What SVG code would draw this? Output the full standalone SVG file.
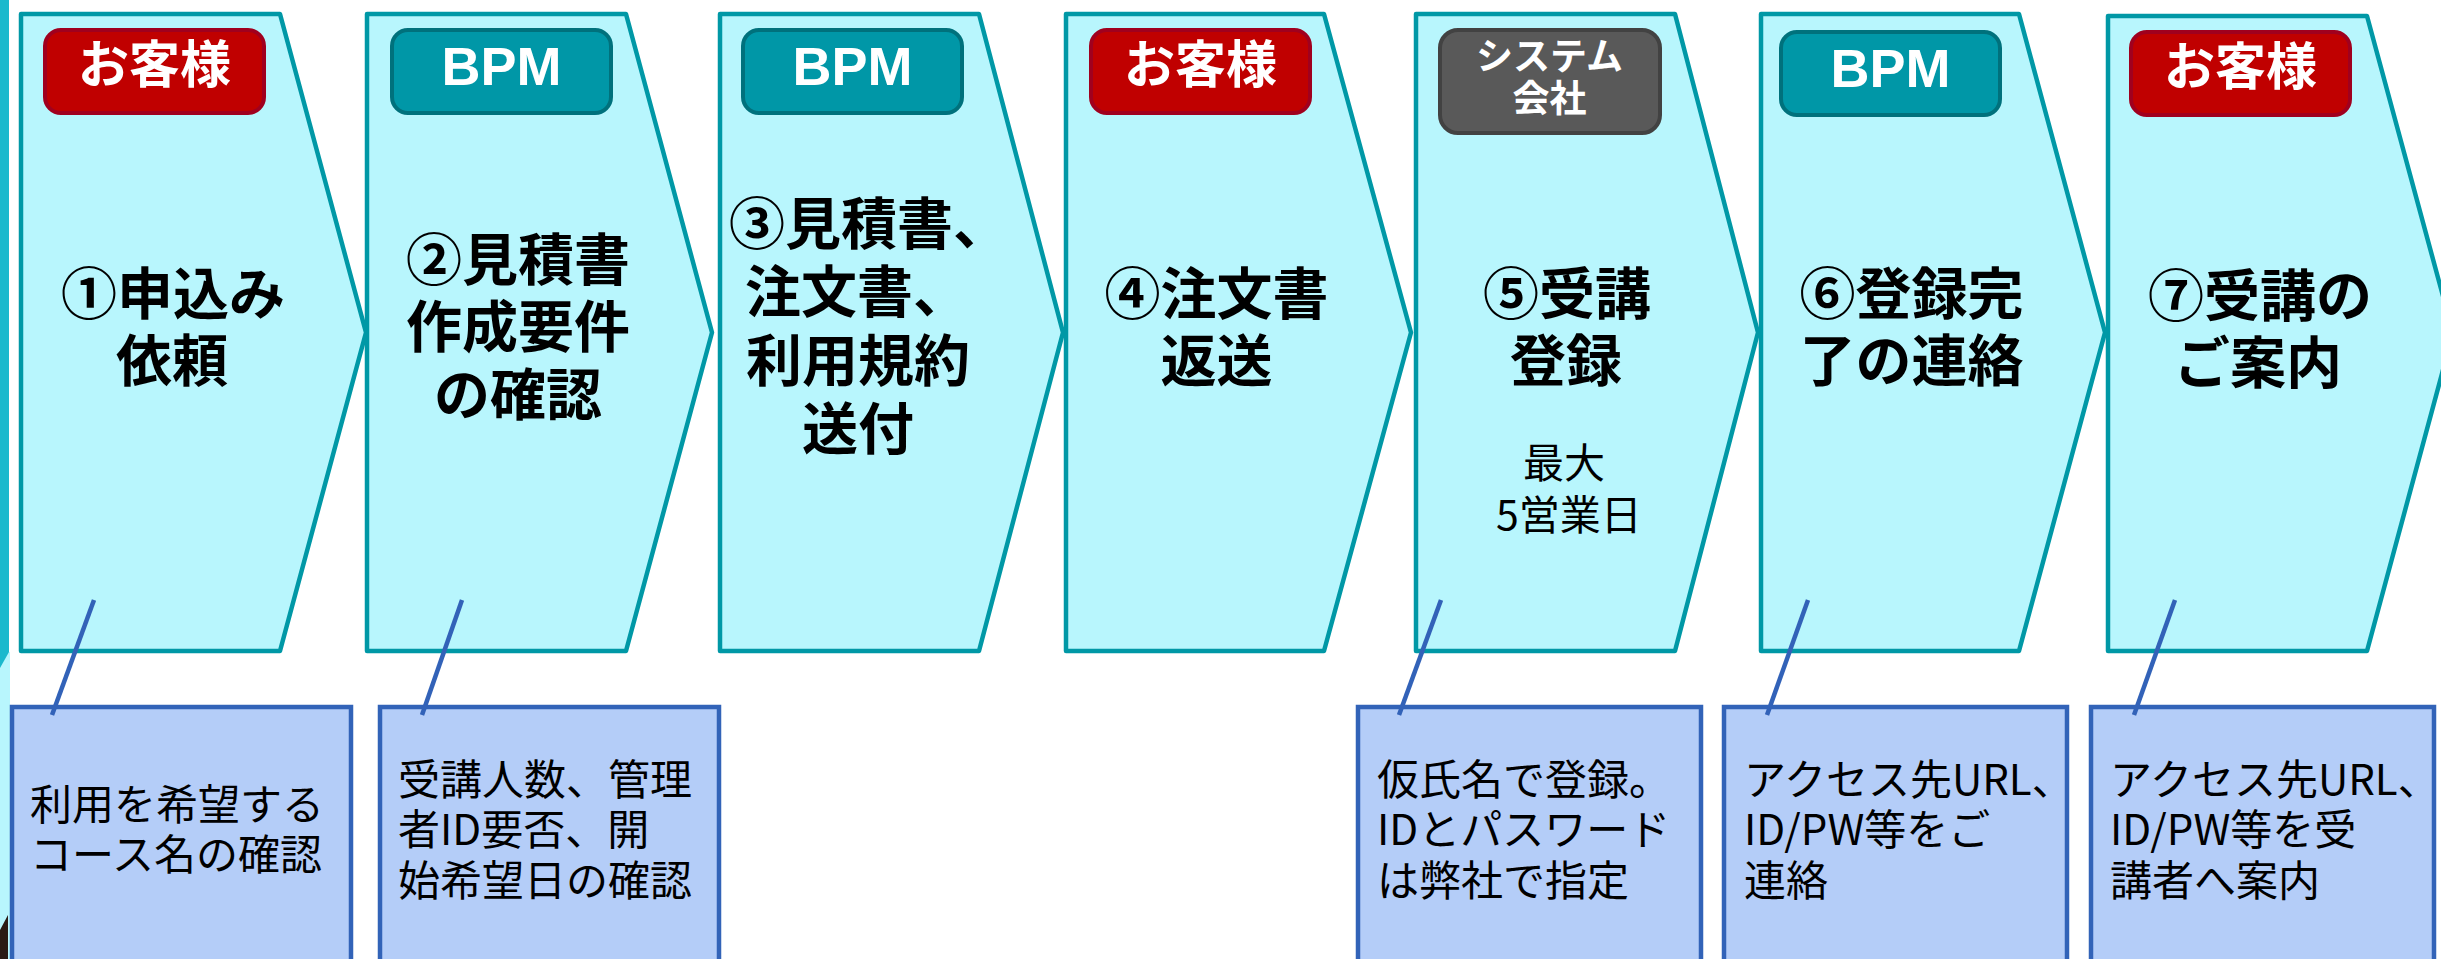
<svg xmlns="http://www.w3.org/2000/svg" width="2441" height="959" viewBox="0 0 2441 959">
<style>
.step{fill:#B8F6FD;stroke:#0098A6;stroke-width:4.5;stroke-linejoin:round}
.bc{fill:#C00000;stroke:#A0001E;stroke-width:4}
.bb{fill:#0097A7;stroke:#00717C;stroke-width:4}
.bg{fill:#595959;stroke:#424242;stroke-width:4}
.bt{font-family:"Noto Sans CJK JP","Noto Sans CJK SC",sans-serif;font-weight:700;fill:#FFFFFF;text-anchor:middle}
.bpm{font-family:"Liberation Sans",Arial,sans-serif;font-weight:700;font-size:54px;fill:#FFFFFF;text-anchor:middle}
.tt{font-family:"Noto Sans CJK JP","Noto Sans CJK SC",sans-serif;font-weight:700;font-size:56px;fill:#000000;text-anchor:middle}
.st{text-anchor:start}
.md{text-anchor:middle}
.sub{font-family:"Noto Sans CJK JP","Noto Sans CJK SC",sans-serif;font-size:41px;fill:#000000;text-anchor:middle}
.note{fill:#B4CDF8;stroke:#3263B8;stroke-width:4.5}
.nt{font-family:"Noto Sans CJK JP","Noto Sans CJK SC",sans-serif;font-size:42px;fill:#000000}
.conn{stroke:#3262B8;stroke-width:4.5;fill:none}
</style>
<rect width="2441" height="959" fill="#FFFFFF"/>
<g id="left-edge">
<polygon points="0,652 10,652 10,959 0,959" fill="#B8F6FD"/>
<polygon points="0,0 9,0 9,652 0,668" fill="#1BB9CD"/>
<polygon points="0,930 8,915 8,959 0,959" fill="#2A1A14"/>
</g>
<g id="step1">
<polygon class="step" points="21,14 280,14 366,332.5 280,651 21,651"/>
<rect class="bc" x="45" y="30" width="219" height="83" rx="16"/>
<text class="bt" x="154.5" y="83" font-size="51">お客様</text>
<text class="tt"><tspan x="173" y="314">①申込み</tspan><tspan x="172" y="381">依頼</tspan></text>
</g>
<g id="step2">
<polygon class="step" points="367,14 626,14 712,332.5 626,651 367,651"/>
<rect class="bb" x="392" y="30" width="219" height="83" rx="16"/>
<text class="bpm" x="501.5" y="84.5">BPM</text>
<text class="tt"><tspan x="518" y="280">②見積書</tspan><tspan x="518" y="347">作成要件</tspan><tspan x="518" y="415">の確認</tspan></text>
</g>
<g id="step3">
<polygon class="step" points="720,14 979,14 1063,332.5 979,651 720,651"/>
<rect class="bb" x="743" y="30" width="219" height="83" rx="16"/>
<text class="bpm" x="852.5" y="84.5">BPM</text>
<text class="tt"><tspan class="st" x="729" y="244">③見積書、</tspan><tspan class="st" x="745" y="312">注文書、</tspan><tspan class="md" x="858" y="381">利用規約</tspan><tspan class="md" x="858" y="449">送付</tspan></text>
</g>
<g id="step4">
<polygon class="step" points="1066,14 1324,14 1411,332.5 1324,651 1066,651"/>
<rect class="bc" x="1091" y="30" width="219" height="83" rx="16"/>
<text class="bt" x="1200.5" y="83" font-size="51">お客様</text>
<text class="tt"><tspan x="1216.5" y="314">④注文書</tspan><tspan x="1216.5" y="381">返送</tspan></text>
</g>
<g id="step5">
<polygon class="step" points="1416,14 1675,14 1758,332.5 1675,651 1416,651"/>
<rect class="bg" x="1440" y="30" width="220" height="103" rx="18"/>
<text class="bt" font-size="37"><tspan x="1549.5" y="70">システム</tspan><tspan x="1549.5" y="112">会社</tspan></text>
<text class="tt"><tspan x="1567" y="314">⑤受講</tspan><tspan x="1566" y="381">登録</tspan></text>
<text class="sub"><tspan x="1564" y="478">最大</tspan><tspan x="1569" y="530">5営業日</tspan></text>
</g>
<g id="step6">
<polygon class="step" points="1761,14 2019,14 2105,332.5 2019,651 1761,651"/>
<rect class="bb" x="1781" y="32" width="219" height="83" rx="16"/>
<text class="bpm" x="1890.5" y="86.5">BPM</text>
<text class="tt"><tspan x="1911.5" y="314">⑥登録完</tspan><tspan x="1911.5" y="381">了の連絡</tspan></text>
</g>
<g id="step7">
<polygon class="step" points="2108,16 2367,16 2453,333 2367,651 2108,651"/>
<rect class="bc" x="2131" y="32" width="219" height="83" rx="16"/>
<text class="bt" x="2240.5" y="85" font-size="51">お客様</text>
<text class="tt"><tspan x="2260" y="316">⑦受講の</tspan><tspan x="2258" y="383">ご案内</tspan></text>
</g>
<g id="note1">
<rect class="note" x="12" y="707" width="339" height="300"/>
<text class="nt"><tspan x="30" y="820">利用を希望する</tspan><tspan x="30" y="870">コース名の確認</tspan></text>
</g>
<g id="note2">
<rect class="note" x="380" y="707" width="339" height="300"/>
<text class="nt"><tspan x="398" y="795">受講人数、管理</tspan><tspan x="398" y="845">者ID要否、開</tspan><tspan x="398" y="896">始希望日の確認</tspan></text>
</g>
<g id="note5">
<rect class="note" x="1358" y="707" width="343" height="300"/>
<text class="nt"><tspan x="1377" y="795">仮氏名で登録。</tspan><tspan x="1377" y="845">IDとパスワード</tspan><tspan x="1377" y="896">は弊社で指定</tspan></text>
</g>
<g id="note6">
<rect class="note" x="1724" y="707" width="343" height="300"/>
<text class="nt"><tspan x="1744" y="795">アクセス先URL、</tspan><tspan x="1744" y="845">ID/PW等をご</tspan><tspan x="1744" y="896">連絡</tspan></text>
</g>
<g id="note7">
<rect class="note" x="2091" y="707" width="343" height="300"/>
<text class="nt"><tspan x="2110" y="795">アクセス先URL、</tspan><tspan x="2110" y="845">ID/PW等を受</tspan><tspan x="2110" y="896">講者へ案内</tspan></text>
</g>
<g id="connectors">
<line class="conn" x1="94" y1="600" x2="52" y2="715"/>
<line class="conn" x1="462" y1="600" x2="422" y2="715"/>
<line class="conn" x1="1441" y1="600" x2="1399" y2="715"/>
<line class="conn" x1="1808" y1="600" x2="1767" y2="715"/>
<line class="conn" x1="2175" y1="600" x2="2134" y2="715"/>
</g>
</svg>
